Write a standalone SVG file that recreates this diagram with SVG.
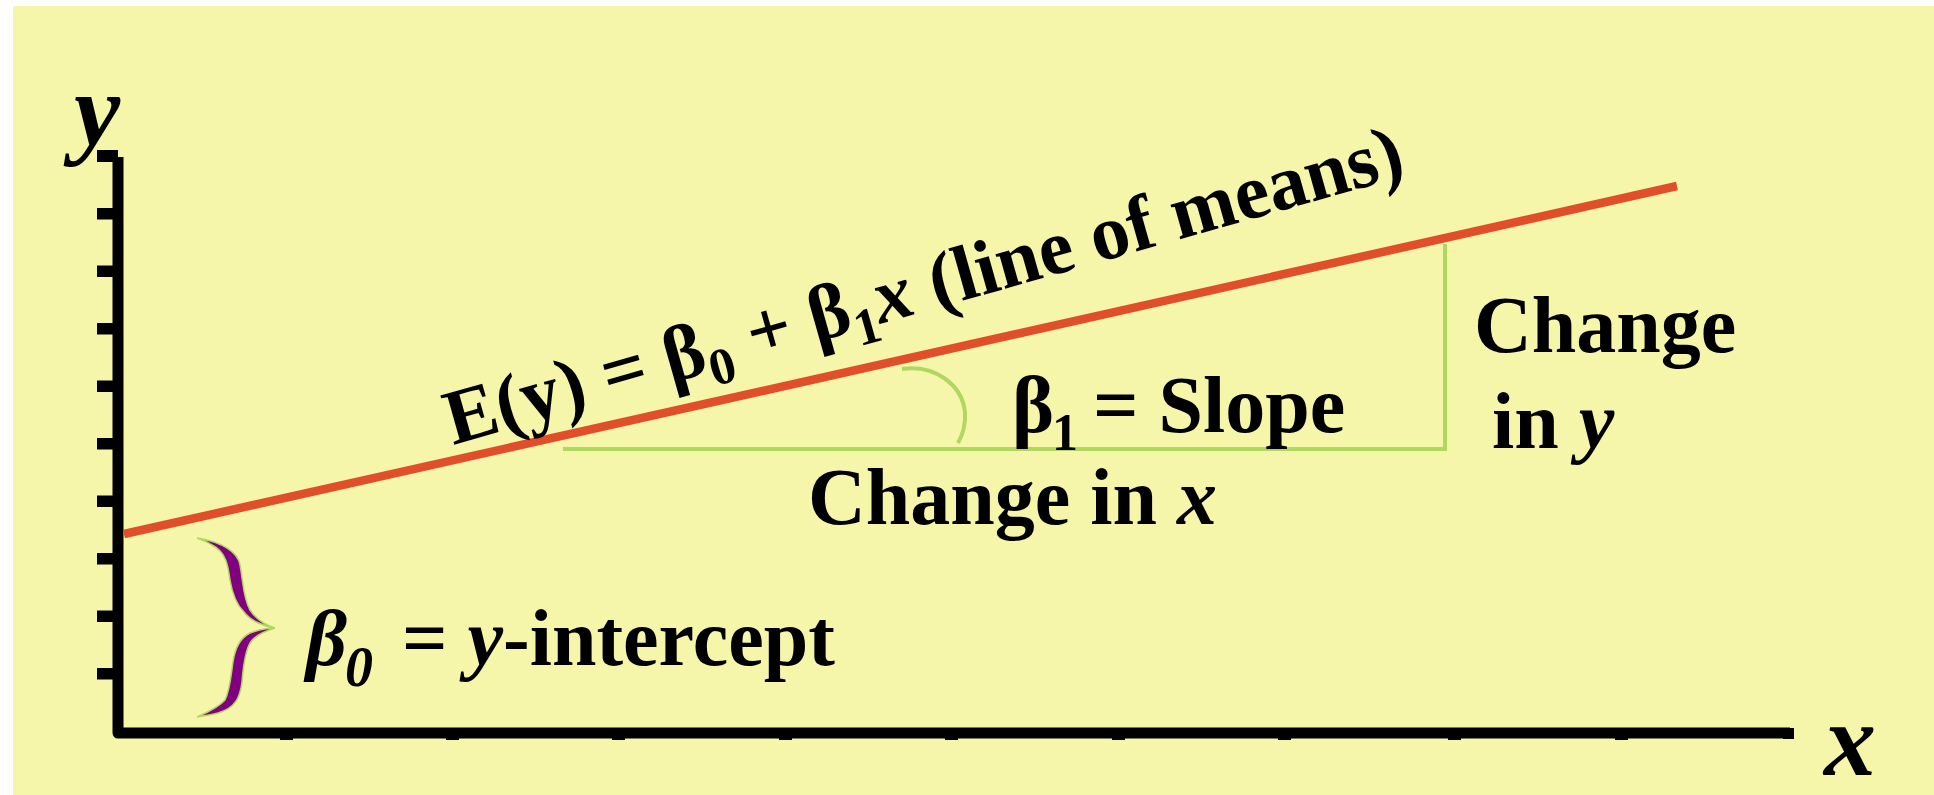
<svg xmlns="http://www.w3.org/2000/svg" width="1934" height="795" viewBox="0 0 1934 795">
<style>
.t{font-family:"Liberation Serif","Times New Roman",serif;font-weight:bold;fill:#000}
.i{font-style:italic}
.g{fill:none;stroke:#B0D860;stroke-width:4}
.tk{fill:#000}
</style>
<rect x="0" y="0" width="1934" height="795" fill="#ffffff"/>
<rect x="13" y="6" width="1921" height="789" fill="#F5F6AA"/>
<g id="axes">
<path d="M118,157 V733 H1790" fill="none" stroke="#000" stroke-width="11" stroke-linejoin="round"/>
<rect x="1783" y="728" width="11" height="11" class="tk"/>
<rect x="97" y="150" width="21" height="12" class="tk"/>
<rect x="97" y="208" width="16" height="11.5" class="tk"/>
<rect x="97" y="265.5" width="16" height="11.5" class="tk"/>
<rect x="97" y="323" width="16" height="11.5" class="tk"/>
<rect x="97" y="380.5" width="16" height="11.5" class="tk"/>
<rect x="97" y="438" width="16" height="11.5" class="tk"/>
<rect x="97" y="495.5" width="16" height="11.5" class="tk"/>
<rect x="97" y="553" width="16" height="11.5" class="tk"/>
<rect x="97" y="610.5" width="16" height="11.5" class="tk"/>
<rect x="97" y="668" width="16" height="11.5" class="tk"/>
<rect x="280" y="737" width="13" height="3" class="tk"/>
<rect x="446" y="737" width="13" height="3" class="tk"/>
<rect x="612" y="737" width="13" height="3" class="tk"/>
<rect x="779" y="737" width="13" height="3" class="tk"/>
<rect x="945" y="737" width="13" height="3" class="tk"/>
<rect x="1112" y="737" width="13" height="3" class="tk"/>
<rect x="1278" y="737" width="13" height="3" class="tk"/>
<rect x="1448" y="737" width="13" height="3" class="tk"/>
<rect x="1615" y="737" width="13" height="3" class="tk"/>
<text class="t i" x="74" y="145" font-size="104">y</text>
<text class="t i" x="1824" y="775" font-size="104">x</text>
</g>
<g id="connectors">
<line id="line-of-means" x1="124" y1="534" x2="1677" y2="186" stroke="#E04F2A" stroke-width="8.5"/>
<path id="slope-triangle" d="M563,449 H1445 V244" class="g"/>
<path id="slope-arc" d="M902,369 C935,364 962,385 965,412 C966,426 962,436 958,443" class="g"/>
</g>
<g id="brace">
<path d="M197,538 C222,542 238,552 240,565 C243,580 243,598 250,610 C256,619 265,625 275,628 C262,626 250,620 244,612 C236,604 232,592 230,580 C228,565 226,552 212,545 C206,541 200,539 197,538 Z" fill="#800080" stroke="#B0D860" stroke-width="1.5"/>
<path d="M275,628 C262,632 252,638 249,645 C244,656 243,670 242,682 C240,698 235,708 218,713 C210,715 202,716 197,717 C206,713 218,708 225,700 C230,690 231,675 233,662 C235,648 240,638 250,633 C258,630 266,628 275,628 Z" fill="#800080" stroke="#B0D860" stroke-width="1.5"/>
</g>
<g id="label-equation">
<text class="t" transform="rotate(-15.8 453 445)" x="453" y="445" font-size="78">E(y) = β<tspan font-size="52" dy="15">0</tspan><tspan dy="-15"> + β</tspan><tspan font-size="52" dy="16">1</tspan><tspan class="i" dy="-16">x</tspan> (line of means)</text>
</g>
<g id="label-slope">
<text class="t" x="1012" y="432" font-size="80">β<tspan x="1052" dy="18" font-size="52">1</tspan><tspan x="1093" dy="-18">= Slope</tspan></text>
</g>
<g id="label-change-x">
<text class="t" x="808" y="524" font-size="80">Change in <tspan class="i">x</tspan></text>
</g>
<g id="label-change-y">
<text class="t" x="1474" y="352" font-size="80">Change</text>
<text class="t" x="1492" y="448" font-size="80">in <tspan class="i">y</tspan></text>
</g>
<g id="label-intercept">
<text class="t" x="306" y="665" font-size="80"><tspan class="i">β</tspan><tspan class="i" x="345" dy="21" font-size="56">0</tspan><tspan x="402" dy="-21">= </tspan><tspan class="i">y</tspan>-intercept</text>
</g>
</svg>
